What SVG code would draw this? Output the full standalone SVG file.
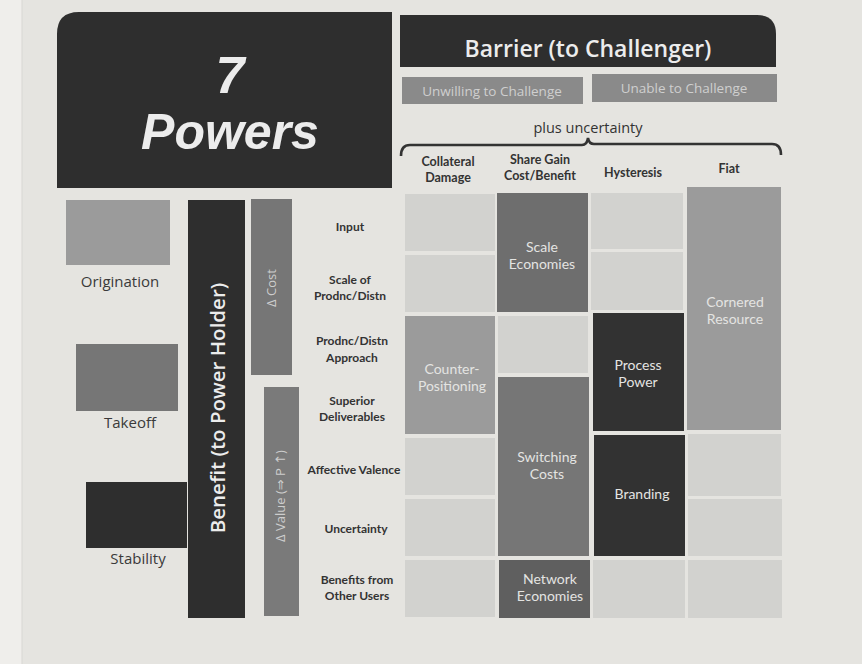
<svg xmlns="http://www.w3.org/2000/svg" width="862" height="664" viewBox="0 0 862 664">
  <style>
    .sans { font-family: "Open Sans", "Noto Sans", "DejaVu Sans", sans-serif; }
    .mid { fill: #9b9b9b; }
    .light { fill: #d2d2cf; }
    .cellTxt { font-family: Lato, "Liberation Sans", sans-serif; font-size: 14px; fill: #e4e4e2; text-anchor: middle; }
    .rowTxt { font-family: Lato, "Liberation Sans", sans-serif; font-size: 12px; font-weight: bold; fill: #333; text-anchor: middle; }
    .colTxt { font-family: Lato, "Liberation Sans", sans-serif; font-size: 12.5px; font-weight: bold; fill: #333; text-anchor: middle; }
    .stageTxt { font-family: "Open Sans", Lato, sans-serif; font-size: 15px; font-weight: 500; fill: #3a3a3a; text-anchor: middle; }
  </style>

  <!-- page -->
  <rect x="0" y="0" width="862" height="664" fill="#e5e4e0"/>
  <rect x="0" y="0" width="22" height="664" fill="#efeeeb"/>
  <line x1="22" y1="0" x2="22" y2="664" stroke="#d8d7d3" stroke-width="1"/>

  <!-- title block -->
  <g id="title">
    <path d="M57 12 H392 V188 H57 V34 Q57 12 79 12 Z" fill="#2e2e2e"/>
    <text x="230" y="93" font-family="Liberation Sans, Arial, sans-serif" font-size="52" font-weight="bold" font-style="italic" fill="#ececec" text-anchor="middle">7</text>
    <text x="230" y="149" font-family="Liberation Sans, Arial, sans-serif" font-size="50" font-weight="bold" font-style="italic" fill="#ececec" text-anchor="middle">Powers</text>
  </g>

  <!-- barrier header -->
  <g id="barrier">
    <path d="M400 15 H757 Q776 15 776 34 V67 H400 Z" fill="#2e2e2e"/>
    <text x="588" y="57" class="sans" font-size="23" font-weight="600" fill="#ececec" text-anchor="middle">Barrier (to Challenger)</text>
  </g>
  <g id="unwilling">
    <rect x="402" y="77" width="181" height="27" fill="#8a8a8a"/>
    <text x="492" y="96" class="sans" font-size="13.5" fill="#cfcfcf" text-anchor="middle">Unwilling to Challenge</text>
  </g>
  <g id="unable">
    <rect x="592" y="74" width="185" height="28" fill="#8a8a8a"/>
    <text x="684" y="93" class="sans" font-size="13.5" fill="#cfcfcf" text-anchor="middle">Unable to Challenge</text>
  </g>
  <g id="uncertainty">
    <text x="588" y="133" class="sans" font-size="14.5" fill="#333" text-anchor="middle">plus uncertainty</text>
    <path d="M401 156 Q401 145 410 145 H582 Q587 145 588 138 Q589 144 594 144 H772 Q781 144 781 155" fill="none" stroke="#333" stroke-width="2.6"/>
  </g>

  <!-- column headers -->
  <g id="columns">
    <text class="colTxt"><tspan x="448" y="166">Collateral</tspan><tspan x="448" y="182">Damage</tspan></text>
    <text class="colTxt"><tspan x="540" y="164">Share Gain</tspan><tspan x="540" y="180">Cost/Benefit</tspan></text>
    <text class="colTxt" x="633" y="177">Hysteresis</text>
    <text class="colTxt" x="729" y="173">Fiat</text>
  </g>

  <!-- company stages -->
  <g id="origination">
    <rect x="66" y="200" width="104" height="65" class="mid"/>
    <text class="stageTxt" x="120" y="287">Origination</text>
  </g>
  <g id="takeoff">
    <rect x="76" y="344" width="102" height="67" fill="#767676"/>
    <text class="stageTxt" x="130" y="428">Takeoff</text>
  </g>
  <g id="stability">
    <rect x="86" y="482" width="101" height="66" fill="#2e2e2e"/>
    <text class="stageTxt" x="138" y="564">Stability</text>
  </g>

  <!-- benefit axis -->
  <g id="benefit">
    <rect x="188" y="200" width="57" height="418" fill="#2e2e2e"/>
    <text transform="translate(225 408) rotate(-90)" class="sans" font-size="20.5" font-weight="600" fill="#ececec" text-anchor="middle">Benefit (to Power Holder)</text>
  </g>
  <g id="cost">
    <rect x="251" y="199" width="41" height="176" fill="#767676"/>
    <text transform="translate(276 288) rotate(-90)" class="sans" font-size="13" fill="#cdcdcd" text-anchor="middle">Δ Cost</text>
  </g>
  <g id="value">
    <rect x="264" y="387" width="35" height="229" fill="#7a7a7a"/>
    <text transform="translate(285 496) rotate(-90)" class="sans" font-size="13" fill="#cdcdcd" text-anchor="middle">Δ Value (⇒ P ↑)</text>
  </g>

  <!-- row labels -->
  <g id="rows">
    <text class="rowTxt" x="350" y="231">Input</text>
    <text class="rowTxt"><tspan x="350" y="284">Scale of</tspan><tspan x="350" y="300">Prodnc/Distn</tspan></text>
    <text class="rowTxt"><tspan x="352" y="345">Prodnc/Distn</tspan><tspan x="352" y="362">Approach</tspan></text>
    <text class="rowTxt"><tspan x="352" y="405">Superior</tspan><tspan x="352" y="421">Deliverables</tspan></text>
    <text class="rowTxt" x="354" y="474">Affective Valence</text>
    <text class="rowTxt" x="356" y="533">Uncertainty</text>
    <text class="rowTxt"><tspan x="357" y="584">Benefits from</tspan><tspan x="357" y="600">Other Users</tspan></text>
  </g>

  <!-- grid: column Collateral Damage -->
  <g id="cd-cells">
    <rect x="405" y="194" width="90" height="57" class="light"/>
    <rect x="405" y="255" width="90" height="57" class="light"/>
    <rect x="405" y="438" width="90" height="57" class="light"/>
    <rect x="405" y="499" width="90" height="57" class="light"/>
    <rect x="405" y="560" width="90" height="57" class="light"/>
  </g>
  <g id="counter-positioning">
    <rect x="405" y="316" width="90" height="118" class="mid"/>
    <text class="cellTxt"><tspan x="452" y="374">Counter-</tspan><tspan x="452" y="391">Positioning</tspan></text>
  </g>

  <!-- grid: column Share Gain Cost/Benefit -->
  <g id="scale-economies">
    <rect x="497" y="193" width="91" height="119" fill="#6e6e6e"/>
    <text class="cellTxt"><tspan x="542" y="252">Scale</tspan><tspan x="542" y="269">Economies</tspan></text>
  </g>
  <g id="sg-cell">
    <rect x="498" y="316" width="90" height="57" class="light"/>
  </g>
  <g id="switching-costs">
    <rect x="498" y="377" width="91" height="179" fill="#767676"/>
    <text class="cellTxt"><tspan x="547" y="462">Switching</tspan><tspan x="547" y="479">Costs</tspan></text>
  </g>
  <g id="network-economies">
    <rect x="499" y="560" width="91" height="58" fill="#5f5f5f"/>
    <text class="cellTxt"><tspan x="550" y="584">Network</tspan><tspan x="550" y="601">Economies</tspan></text>
  </g>

  <!-- grid: column Hysteresis -->
  <g id="hy-cells">
    <rect x="591" y="193" width="92" height="56" class="light"/>
    <rect x="591" y="252" width="92" height="58" class="light"/>
    <rect x="593" y="560" width="92" height="58" class="light"/>
  </g>
  <g id="process-power">
    <rect x="593" y="313" width="91" height="118" fill="#323232"/>
    <text class="cellTxt"><tspan x="638" y="370">Process</tspan><tspan x="638" y="387">Power</tspan></text>
  </g>
  <g id="branding">
    <rect x="594" y="435" width="91" height="121" fill="#323232"/>
    <text class="cellTxt" x="642" y="499">Branding</text>
  </g>

  <!-- grid: column Fiat -->
  <g id="cornered-resource">
    <rect x="687" y="187" width="94" height="243" class="mid"/>
    <text class="cellTxt"><tspan x="735" y="307">Cornered</tspan><tspan x="735" y="324">Resource</tspan></text>
  </g>
  <g id="fi-cells">
    <rect x="688" y="434" width="93" height="62" class="light"/>
    <rect x="688" y="499" width="94" height="57" class="light"/>
    <rect x="688" y="560" width="94" height="58" class="light"/>
  </g>
</svg>
